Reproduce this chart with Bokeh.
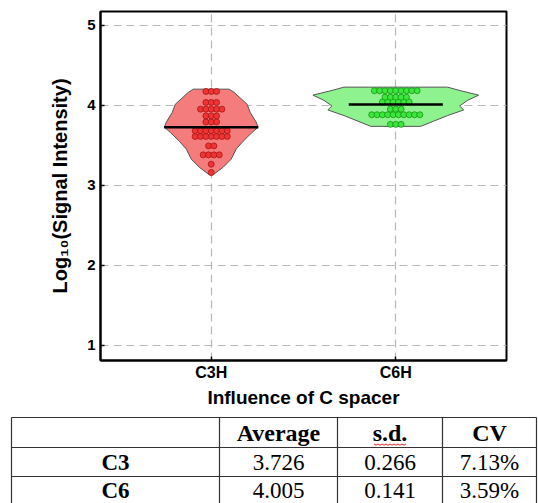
import numpy as np
from bokeh.plotting import figure
from bokeh.layouts import column
from bokeh.models import Range1d, FixedTicker
from bokeh.core.properties import value
from bokeh.embed import file_html
from bokeh.resources import INLINE

# ---------------- data ----------------
categories = ["C3H", "C6H"]
cat_pos = [1, 2]

# individual points (log10 signal)
c3_values = ([4.171] * 3 + [4.034] * 3 + [3.95] * 5 + [3.866] * 3 + [3.79] * 3 +
             [3.679] * 7 + [3.609] * 7 + [3.491] * 2 + [3.379] * 4 + [3.2625] + [3.158])
c6_values = ([4.18] * 9 + [4.10] * 5 + [4.04] * 6 + [3.95] * 3 + [3.88] * 10 + [3.76] * 3)

# violin outlines as drawn: levels and half-widths (x units)
c3_levels = [3.125, 3.14, 3.225, 3.325, 3.45, 3.55, 3.66, 3.725, 3.79, 3.91, 4.01, 4.16, 4.20]
c3_halfw = [0.0, 0.016, 0.065, 0.108, 0.135, 0.173, 0.222, 0.254, 0.243, 0.211, 0.195, 0.124, 0.097]
c6_levels = [3.735, 3.80, 3.87, 3.94, 3.99, 4.06, 4.125, 4.19, 4.225]
c6_halfw = [0.135, 0.205, 0.281, 0.368, 0.346, 0.389, 0.449, 0.335, 0.281]

y_ticks = [1, 2, 3, 4, 5]

# table
table_headers = ["", "Average", "s.d.", "CV"]
table_rows = ["C3", "C6"]
table_avg = [3.726, 4.005]
table_sd = [0.266, 0.141]
table_cv = [7.13, 3.59]

# ---------------- styles ----------------
violin_fill = ["#F47C7C", "#8EF28E"]
dot_fill = ["#EE3434", "#3CE63C"]
dot_line = ["#A81414", "#169616"]
SANS = "Liberation Sans"
SERIF = "Liberation Serif"

p = figure(width=538, height=410, output_backend="svg", toolbar_location=None,
           x_range=Range1d(0.4, 2.6), y_range=Range1d(0.81, 5.17),
           min_border_left=100, min_border_right=32, min_border_top=11, min_border_bottom=50)
p.frame_align = False
p.background_fill_color = "white"
p.border_fill_color = "white"
p.outline_line_color = "black"
p.outline_line_width = 2

for ax in (p.xaxis[0], p.yaxis[0]):
    ax.axis_line_width = 2
    ax.axis_line_color = "black"
    ax.major_tick_in = 4
    ax.major_tick_out = 0
    ax.major_tick_line_width = 1.5
    ax.minor_tick_line_color = None
    ax.major_label_text_font = SANS
    ax.major_label_text_font_style = "bold"
    ax.major_label_text_color = "black"
    ax.axis_label_text_font = SANS
    ax.axis_label_text_font_style = "bold"
    ax.axis_label_text_color = "black"

p.xaxis.ticker = FixedTicker(ticks=cat_pos)
p.xaxis.major_label_overrides = {pos: lab for pos, lab in zip(cat_pos, categories)}
p.xaxis.major_label_text_font_size = "16px"
p.xaxis.major_label_standoff = 3
p.xaxis.axis_label = "Influence of C spacer"
p.xaxis.axis_label_text_font_size = "19px"
p.xaxis.axis_label_standoff = 3

p.yaxis.ticker = FixedTicker(ticks=y_ticks)
p.yaxis.major_label_text_font_size = "15px"
p.yaxis.major_label_standoff = 5
p.yaxis.axis_label = "Log\u2081\u2080(Signal Intensity)"
p.yaxis.axis_label_text_font_size = "20px"
p.yaxis.axis_label_standoff = 13

for g in (p.xgrid[0], p.ygrid[0]):
    g.grid_line_color = "#B8B8B8"
    g.grid_line_dash = "8 5"
    g.grid_line_width = 1.2
p.xgrid.ticker = FixedTicker(ticks=cat_pos)
p.ygrid.ticker = FixedTicker(ticks=y_ticks)

groups = [(c3_values, c3_levels, c3_halfw), (c6_values, c6_levels, c6_halfw)]
spacing = 0.029
for i, (vals, lev, hw) in enumerate(groups):
    c = cat_pos[i]
    lev = np.array(lev)
    hw = np.array(hw)
    xs = np.concatenate([c + hw, (c - hw)[::-1]])
    ys = np.concatenate([lev, lev[::-1]])
    p.patch(xs, ys, fill_color=violin_fill[i], line_color="#555555", line_width=1)

    vals = np.array(vals)
    px, py = [], []
    for v in sorted(set(vals.tolist())):
        n = int(np.sum(vals == v))
        offs = (np.arange(n) - (n - 1) / 2) * spacing
        px.extend((c + offs).tolist())
        py.extend([v] * n)
    p.scatter(px, py, size=6, fill_color=dot_fill[i], line_color=dot_line[i], line_width=0.8)

    m = float(vals.mean())
    p.segment(x0=[c - 0.255], y0=[m], x1=[c + 0.255], y1=[m], line_color="black", line_width=2.5)

# ---------------- table ----------------
t = figure(width=538, height=93, output_backend="svg", toolbar_location=None,
           x_range=Range1d(0, 538), y_range=Range1d(503, 410),
           min_border=0, min_border_left=0, min_border_right=0, min_border_top=0, min_border_bottom=0)
t.frame_align = False
t.axis.visible = False
t.grid.visible = False
t.outline_line_color = None
t.background_fill_color = "white"
t.border_fill_color = "white"

col_edges = [11, 219, 337, 442, 536]
row_edges = [417, 447, 476, 508]
t.segment(x0=[col_edges[0]] * len(row_edges), x1=[col_edges[-1]] * len(row_edges),
          y0=row_edges, y1=row_edges, line_color="#333333", line_width=1.2)
t.segment(x0=col_edges, x1=col_edges, y0=[row_edges[0]] * len(col_edges),
          y1=[row_edges[-1]] * len(col_edges), line_color="#333333", line_width=1.2)

centers = [(col_edges[k] + col_edges[k + 1]) / 2 for k in range(4)]
mids = [432, 462, 490]

t.text(x=centers[1:], y=[mids[0]] * 3, text=table_headers[1:],
       text_font=value(SERIF), text_font_style="bold", text_font_size="24px",
       text_align="center", text_baseline="middle", text_color="black")
t.text(x=[centers[0]] * 2, y=mids[1:], text=table_rows,
       text_font=value(SERIF), text_font_style="bold", text_font_size="23px",
       text_align="center", text_baseline="middle", text_color="black")
for k, vals in enumerate([[f"{v:.3f}" for v in table_avg],
                          [f"{v:.3f}" for v in table_sd],
                          [f"{v:.2f}%" for v in table_cv]]):
    t.text(x=[centers[k + 1]] * 2, y=mids[1:], text=vals,
           text_font=value(SERIF), text_font_size="23px",
           text_align="center", text_baseline="middle", text_color="black")

# spell-check squiggle under "s.d."
sq_x = np.linspace(centers[2] - 16, centers[2] + 16, 17)
sq_y = 443.5 + np.tile([0, 1.2], 9)[:17]
t.line(sq_x, sq_y, line_color="#E02020", line_width=1)

layout = column(p, t, spacing=0)
open("out.html", "w").write(file_html(layout, INLINE))
